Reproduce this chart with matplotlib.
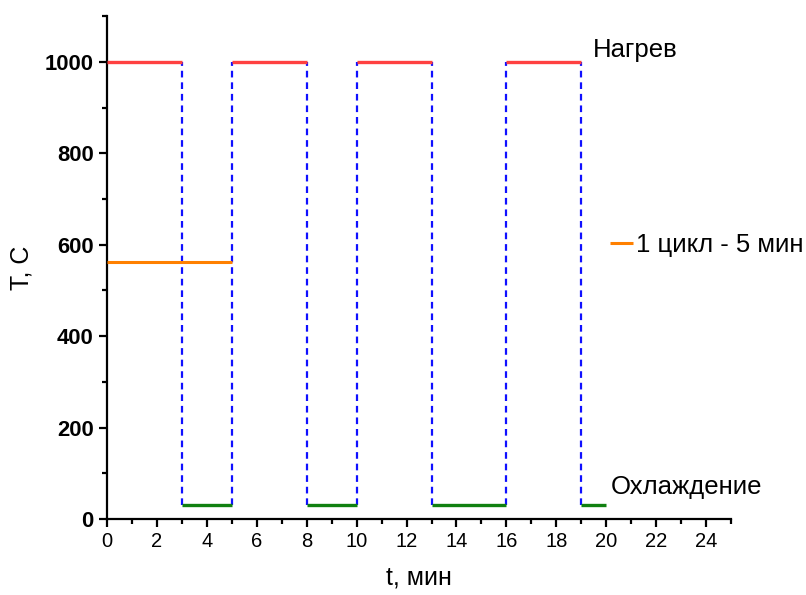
import matplotlib
matplotlib.use("Agg")
import matplotlib.pyplot as plt
from matplotlib.ticker import MultipleLocator

plt.rcParams['font.family'] = ['Liberation Sans', 'DejaVu Sans']

# heating intervals (t start, t end) at T_heat
heat_start = [0, 5, 10, 16]
heat_end = [3, 8, 13, 19]
T_heat = 1000
# cooling intervals at T_cool
cool_start = [3, 8, 13, 19]
cool_end = [5, 10, 16, 20]
T_cool = 30
# switching moments (dashed verticals)
switch_t = [3, 5, 8, 10, 13, 16, 19]
# one cycle marker
cycle_t = [0, 5]
cycle_T = [562, 562]

fig = plt.figure(figsize=(8.06, 5.95), dpi=100)
ax = fig.add_axes([0.1328, 0.1277, 0.7742, 0.8453])

for t in switch_t:
    ax.plot([t, t], [T_cool, T_heat], color="#1010ff", ls=(0, (3, 2.2)), lw=1.6, zorder=2)
for a, b in zip(heat_start, heat_end):
    ax.plot([a, b], [T_heat, T_heat], color="#ff4040", lw=2.4, solid_capstyle="butt", zorder=3)
for a, b in zip(cool_start, cool_end):
    ax.plot([a, b], [T_cool, T_cool], color="#118011", lw=2.4, solid_capstyle="butt", zorder=3)
ax.plot(cycle_t, cycle_T, color="#ff8000", lw=2.2, solid_capstyle="butt", zorder=3,
        label="1 цикл - 5 мин")

ax.text(19.45, 1026, "Нагрев", fontsize=18.5, ha="left", va="center")
ax.text(20.2, 70, "Охлаждение", fontsize=18.5, ha="left", va="center")
ax.legend(loc="center left", bbox_to_anchor=(0.806, 0.545), frameon=False, fontsize=18.5,
          handlelength=0.9, handletextpad=0.1, borderaxespad=0, borderpad=0)

ax.set_xlim(0, 25)
ax.set_ylim(0, 1100)
ax.xaxis.set_major_locator(MultipleLocator(2))
ax.xaxis.set_minor_locator(MultipleLocator(1))
ax.yaxis.set_major_locator(MultipleLocator(200))
ax.yaxis.set_minor_locator(MultipleLocator(100))
for s in ["top", "right"]:
    ax.spines[s].set_visible(False)
for s in ["left", "bottom"]:
    ax.spines[s].set_linewidth(1.6)
ax.tick_params(which="major", direction="out", length=6, width=1.6, labelsize=14.5)
ax.tick_params(axis="y", which="major", labelsize=15.8)
ax.tick_params(which="minor", direction="out", length=3.5, width=1.6)
for lab in ax.get_yticklabels():
    lab.set_fontweight("bold")
ax.set_xlabel("t, мин", fontsize=18, labelpad=10)
ax.set_ylabel("T, C", fontsize=18, labelpad=8)

fig.savefig("out.png", dpi=100)
